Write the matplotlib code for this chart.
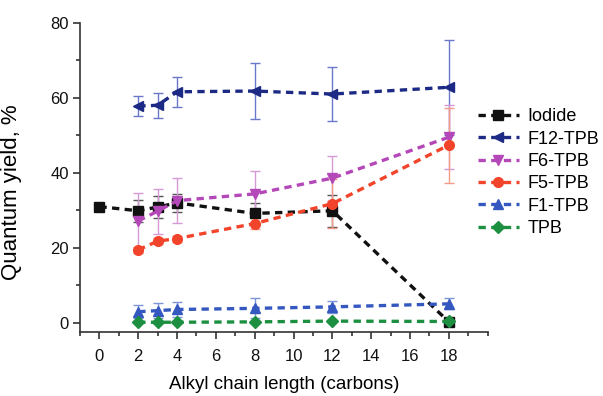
import numpy as np
import matplotlib
matplotlib.use("Agg")
import matplotlib.pyplot as plt

plt.rcParams["font.family"] = ["Liberation Sans", "DejaVu Sans"]
fontsize = 12

# ----- data -----
x_iodide = [0, 2, 3, 4, 8, 12, 18]
iodide = [31.0, 29.9, 30.9, 32.0, 29.2, 29.9, 0.3]
iodide_err = [0, 3.0, 3.0, 2.5, 2.8, 4.3, 0.5]

x_tpb = [2, 3, 4, 8, 12, 18]
f12 = [57.8, 58.0, 61.6, 61.8, 61.0, 62.8]
f12_err = [2.7, 3.3, 4.0, 7.5, 7.2, 12.7]

f6 = [27.2, 29.8, 32.6, 34.4, 38.6, 49.5]
f6_err = [7.5, 6.0, 6.0, 6.0, 6.0, 8.5]

f5 = [19.5, 21.8, 22.5, 26.5, 31.8, 47.4]
f5_err = [0.8, 0.8, 0.8, 1.5, 6.5, 10.0]

f1 = [3.0, 3.3, 3.6, 3.9, 4.3, 5.1]
f1_err = [1.8, 2.0, 2.0, 2.7, 1.6, 1.5]

tpb = [0.2, 0.2, 0.2, 0.3, 0.5, 0.4]
tpb_err = [0.2, 0.2, 0.2, 0.2, 0.2, 0.2]

series = [
    ("Iodide", x_iodide, iodide, iodide_err, "#111111", "#555555", "s"),
    ("F12-TPB", x_tpb, f12, f12_err, "#1c2a85", "#6a78cc", "<"),
    ("F6-TPB", x_tpb, f6, f6_err, "#b548b8", "#d59ad6", "v"),
    ("F5-TPB", x_tpb, f5, f5_err, "#f2442a", "#f59a88", "o"),
    ("F1-TPB", x_tpb, f1, f1_err, "#3558c0", "#7d95d8", "^"),
    ("TPB", x_tpb, tpb, tpb_err, "#1c9040", "#6cbf85", "D"),
]

# ----- figure -----
fig = plt.figure(figsize=(6.03, 3.96), dpi=100)
ax = fig.add_axes([0.1327, 0.1616, 0.676, 0.781])

handles = []
for name, xs, ys, errs, col, ecol, mk in series:
    ax.errorbar(xs, ys, yerr=errs, fmt="none", ecolor=ecol, elinewidth=1.0,
                capsize=3.5, capthick=1.0, zorder=2)
    ms = 6 if mk == "D" else 7
    line, = ax.plot(xs, ys, linestyle=(0, (2.2, 1.6)), linewidth=2.4, color=col,
                    marker=mk, markersize=ms, markeredgecolor=col, label=name, zorder=3)
    handles.append(line)

ax.set_xlim(-1, 20)
ax.set_ylim(-2.4, 80)
ax.set_xticks(np.arange(0, 19, 2))
ax.set_xticks(np.arange(-1, 21, 1), minor=True)
ax.set_yticks([0, 20, 40, 60, 80])
ax.set_yticks([10, 30, 50, 70], minor=True)

for s in ["top", "right"]:
    ax.spines[s].set_visible(False)
for s in ["left", "bottom"]:
    ax.spines[s].set_color("#333333")
    ax.spines[s].set_linewidth(1.2)

ax.tick_params(axis="both", which="major", direction="out", length=5, width=1.2,
               labelsize=fontsize, colors="#333333", labelcolor="#111111")
ax.tick_params(axis="both", which="minor", direction="out", length=3, width=1.2,
               colors="#333333")
ax.tick_params(axis="x", pad=7)
ax.tick_params(axis="y", pad=3)

ax.set_xlabel("Alkyl chain length (carbons)", fontsize=fontsize + 1.5, labelpad=9)
ax.set_ylabel("Quantum yield, %", fontsize=fontsize + 4)
ax.yaxis.set_label_coords(-0.142, 0.453)

fig.legend(handles, [s[0] for s in series], loc="upper left",
           bbox_to_anchor=(0.792, 0.727), frameon=False, fontsize=fontsize + 1,
           borderpad=0, borderaxespad=0,
           handlelength=2.3, labelspacing=0.3, handletextpad=0.45)

plt.savefig("out.png", dpi=100)
